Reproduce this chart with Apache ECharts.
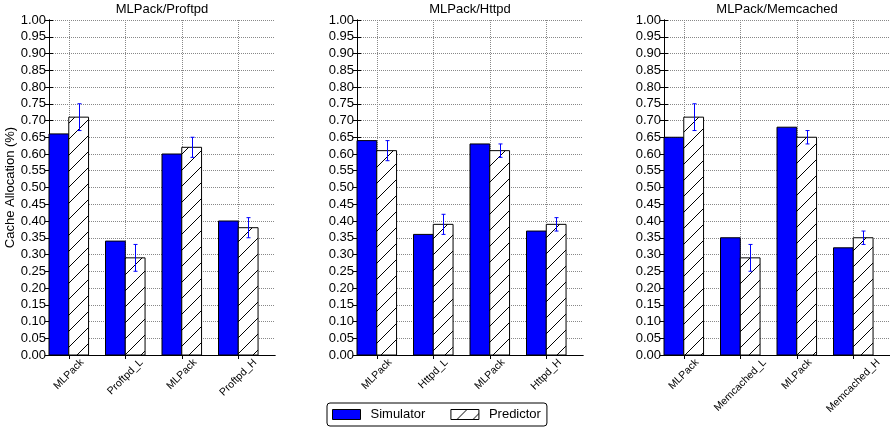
<!DOCTYPE html>
<html>
<head>
<meta charset="utf-8">
<script src="https://cdn.jsdelivr.net/npm/echarts@6/dist/echarts.min.js"></script>
<style>
  html, body { margin: 0; padding: 0; background: #fff; }
  #main { width: 890px; height: 427px; }
</style>
</head>
<body>
<div id="main"></div>
<script>
// data
const titles = ["MLPack/Proftpd", "MLPack/Httpd", "MLPack/Memcached"];
const categories = [
  ["MLPack", "Proftpd_L", "MLPack", "Proftpd_H"],
  ["MLPack", "Httpd_L", "MLPack", "Httpd_H"],
  ["MLPack", "Memcached_L", "MLPack", "Memcached_H"]
];
const simulator = [
  [0.66, 0.34, 0.60, 0.40],
  [0.64, 0.36, 0.63, 0.37],
  [0.65, 0.35, 0.68, 0.32]
];
const predictor = [
  [0.71, 0.29, 0.62, 0.38],
  [0.61, 0.39, 0.61, 0.39],
  [0.71, 0.29, 0.65, 0.35]
];
const errLow = [
  [0.67, 0.25, 0.59, 0.35],
  [0.58, 0.36, 0.59, 0.37],
  [0.67, 0.25, 0.63, 0.33]
];
const errHigh = [
  [0.75, 0.33, 0.65, 0.41],
  [0.64, 0.42, 0.63, 0.41],
  [0.75, 0.33, 0.67, 0.37]
];

const FONT = "'Liberation Sans', Arial, sans-serif";
const barW = 0.35;
const tickPos = [0.35, 1.35, 2.35, 3.35];
const gridLeft = [49, 357, 664];
const gridWidth = 226;

// hatch tile "/"
function hatchCanvas() {
  const s = 16;
  const c = document.createElement("canvas");
  c.width = s; c.height = s;
  const ctx = c.getContext("2d");
  ctx.fillStyle = "#fff";
  ctx.fillRect(0, 0, s, s);
  ctx.strokeStyle = "#000";
  ctx.lineWidth = 1;
  ctx.beginPath();
  ctx.moveTo(-2, s + 2); ctx.lineTo(s + 2, -2);
  ctx.moveTo(-2, 2); ctx.lineTo(2, -2);
  ctx.moveTo(s - 2, s + 2); ctx.lineTo(s + 2, s - 2);
  ctx.stroke();
  return c;
}
const hatchFill = { image: hatchCanvas(), repeat: "repeat" };

const measure = document.createElement("canvas").getContext("2d");
const labelSize = 10.5;
measure.font = labelSize + "px " + FONT;

function barRender(offset, fill) {
  return function (params, api) {
    const i = api.value(0), v = api.value(1);
    const p0 = api.coord([i + offset, v]);
    const p1 = api.coord([i + offset + barW, 0]);
    return {
      type: "rect",
      shape: { x: p0[0], y: p0[1], width: p1[0] - p0[0], height: p1[1] - p0[1] },
      style: { fill: fill, stroke: "#000", lineWidth: 1 }
    };
  };
}

function errRender(params, api) {
  const i = api.value(0);
  const x = i + barW + barW / 2;
  const top = api.coord([x, api.value(2)]);
  const bot = api.coord([x, api.value(1)]);
  const px = Math.round(top[0]) + 0.5;
  const st = { stroke: "#0000ff", lineWidth: 1 };
  return {
    type: "group",
    children: [
      { type: "line", shape: { x1: px, y1: top[1], x2: px, y2: bot[1] }, style: st },
      { type: "line", shape: { x1: px - 2, y1: top[1], x2: px + 2, y2: top[1] }, style: st },
      { type: "line", shape: { x1: px - 2, y1: bot[1], x2: px + 2, y2: bot[1] }, style: st }
    ]
  };
}

function labelRender(names) {
  return function (params, api) {
    const i = api.value(0);
    const p = api.coord([tickPos[i], 0]);
    const txt = names[i];
    const L = measure.measureText(txt).width;
    const cy = p[1] + 3 + (L + 8) * 0.354;
    return {
      type: "text",
      x: p[0], y: cy,
      rotation: Math.PI / 4,
      style: {
        text: txt, fill: "#000", align: "center", verticalAlign: "middle",
        font: labelSize + "px " + FONT
      }
    };
  };
}

const grid = [], xAxis = [], yAxis = [], series = [], title = [];
for (let g = 0; g < 3; g++) {
  grid.push({ left: gridLeft[g], width: gridWidth, top: 20, height: 335, outerBoundsMode: "none" });
  title.push({
    text: titles[g], left: gridLeft[g] + gridWidth / 2, top: 3, textAlign: "center", padding: 0,
    textStyle: { fontSize: 13, fontWeight: "normal", color: "#000", fontFamily: FONT }
  });
  const xCommon = {
    type: "value", gridIndex: g, min: 0, max: 4,
    axisLine: { show: true, lineStyle: { color: "#000", width: 1 } },
    axisTick: { show: true, inside: true, length: 4, customValues: tickPos, lineStyle: { color: "#000" } },
    axisLabel: { show: false }
  };
  xAxis.push(Object.assign({}, xCommon, {
    position: "bottom",
    splitLine: { show: true, lineStyle: { color: "#888", type: [1, 1] } }
  }));
  xAxis.push(Object.assign({}, xCommon, { position: "top", splitLine: { show: false } }));
  const yCommon = {
    type: "value", gridIndex: g, min: 0, max: 1, interval: 0.05,
    axisLine: { show: true, lineStyle: { color: "#000", width: 1 } },
    axisTick: { show: true, inside: true, length: 4, lineStyle: { color: "#000" } }
  };
  yAxis.push(Object.assign({}, yCommon, {
    position: "left",
    name: g === 0 ? "Cache Allocation (%)" : "",
    nameLocation: "middle", nameGap: 30,
    nameTextStyle: { fontSize: 13, color: "#000", fontFamily: FONT },
    axisLabel: { fontSize: 13, color: "#000", fontFamily: FONT, margin: 3, formatter: v => v.toFixed(2) },
    splitLine: { show: true, lineStyle: { color: "#888", type: [1, 1] } }
  }));
  yAxis.push(Object.assign({}, yCommon, {
    position: "right", axisLabel: { show: false }, splitLine: { show: false }
  }));

  series.push({
    type: "custom", name: "Simulator", xAxisIndex: 2 * g, yAxisIndex: 2 * g,
    data: simulator[g].map((v, i) => [i, v]), encode: { x: 0, y: 1 },
    renderItem: barRender(0, "#0000ff"), z: 3
  });
  series.push({
    type: "custom", name: "Predictor", xAxisIndex: 2 * g, yAxisIndex: 2 * g,
    data: predictor[g].map((v, i) => [i, v]), encode: { x: 0, y: 1 },
    renderItem: barRender(barW, hatchFill), z: 3
  });
  series.push({
    type: "custom", name: "err" + g, xAxisIndex: 2 * g, yAxisIndex: 2 * g,
    data: errLow[g].map((v, i) => [i, v, errHigh[g][i]]), encode: { x: 0, y: [1, 2] },
    renderItem: errRender, z: 4
  });
  series.push({
    type: "custom", name: "lbl" + g, xAxisIndex: 2 * g, yAxisIndex: 2 * g,
    data: categories[g].map((c, i) => [i, 0]), encode: { x: 0, y: 1 },
    renderItem: labelRender(categories[g]), clip: false, z: 5
  });
}

const chart = echarts.init(document.getElementById("main"));
chart.setOption({
  animation: false,
  backgroundColor: "#fff",
  title: title,
  grid: grid,
  xAxis: xAxis,
  yAxis: yAxis,
  legend: {
    data: [
      { name: "Simulator", icon: "rect", itemStyle: { color: "#0000ff", borderColor: "#000", borderWidth: 1 } },
      { name: "Predictor", icon: "rect", itemStyle: { color: hatchFill, borderColor: "#000", borderWidth: 1 } }
    ],
    left: 327, top: 403,
    padding: [5, 6, 5, 5],
    itemWidth: 28, itemHeight: 10, itemGap: 25,
    borderColor: "#000", borderWidth: 1, borderRadius: 3,
    selectedMode: false,
    textStyle: { fontSize: 13, color: "#000", fontFamily: FONT, padding: [0, 0, 0, 5] }
  },
  series: series
});
</script>
</body>
</html>
